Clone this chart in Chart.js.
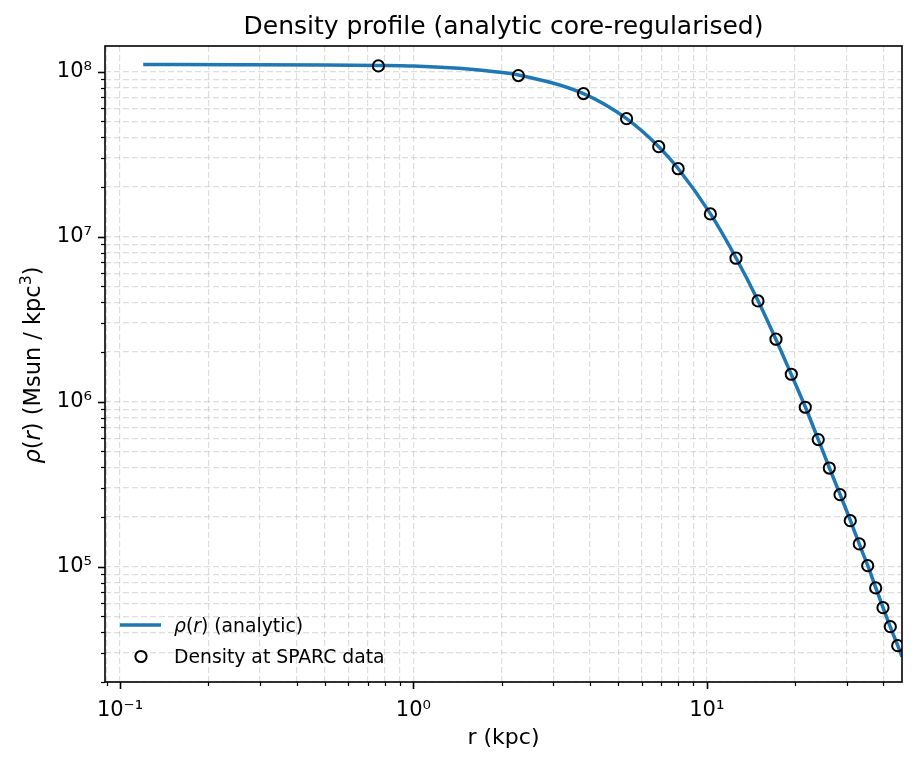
<!DOCTYPE html>
<html>
<head>
<meta charset="utf-8">
<script src="https://cdn.jsdelivr.net/npm/chart.js@4.4.1/dist/chart.umd.min.js"></script>
<style>
  html, body { margin: 0; padding: 0; background: #ffffff; }
  #wrap { width: 917px; height: 767px; position: relative; }
</style>
</head>
<body>
<div id="wrap"><canvas id="c" width="917" height="767"></canvas></div>
<script>
// ---- data ----
const R_LINE = [0.12, 0.25, 0.5, 0.76, 1.0, 1.57, 1.9, 2.28, 3.8, 5.33, 6.86, 8.0, 10.3, 12.6, 15.0, 17.2, 19.4, 21.7, 24.0, 26.2, 28.5, 30.9, 33.1, 35.4, 37.7, 39.9, 42.2, 44.8, 46.3];
const RHO_LINE = [1.103e8, 1.102e8, 1.098e8, 1.09e8, 1.08e8, 1.035e8, 9.99e7, 9.55e7, 7.36e7, 5.19e7, 3.51e7, 2.58e7, 1.373e7, 7.40e6, 4.05e6, 2.39e6, 1.466e6, 9.25e5, 5.89e5, 3.96e5, 2.73e5, 1.90e5, 1.373e5, 1.014e5, 7.43e4, 5.64e4, 4.33e4, 3.32e4, 2.85e4];

const R_PTS = [0.760, 2.28, 3.80, 5.33, 6.86, 7.99, 10.29, 12.58, 14.95, 17.22, 19.42, 21.67, 23.99, 26.17, 28.46, 30.85, 33.11, 35.37, 37.66, 39.88, 42.24, 44.77];
const RHO_PTS = [1.083e8, 9.46e7, 7.36e7, 5.19e7, 3.51e7, 2.58e7, 1.373e7, 7.40e6, 4.08e6, 2.39e6, 1.466e6, 9.25e5, 5.89e5, 3.96e5, 2.73e5, 1.90e5, 1.373e5, 1.014e5, 7.43e4, 5.64e4, 4.33e4, 3.32e4];

const X_RANGE = [0.0889, 46.3];
const Y_RANGE = [2.0e4, 1.43e8];
const X_DECADES = [-2, -1, 0, 1];
const Y_DECADES = [4, 5, 6, 7, 8];

const TITLE = 'Density profile (analytic core-regularised)';
const X_LABEL = 'r (kpc)';
const LINE_LABEL = 'ρ(r) (analytic)';
const PTS_LABEL = 'Density at SPARC data';

// ---- helpers ----
const SUP = {'-':'⁻','0':'⁰','1':'¹','2':'²','3':'³','4':'⁴','5':'⁵','6':'⁶','7':'⁷','8':'⁸','9':'⁹'};
function isPow10(v) { const l = Math.log10(v); return Math.abs(l - Math.round(l)) < 1e-9; }
function powLabel(v) { const e = String(Math.round(Math.log10(v))); return '10' + e.split('').map(c => SUP[c]).join(''); }
function logTicks(decades, range) {
  const out = [];
  decades.forEach(e => { for (let m = 1; m <= 9; m++) { const v = m * Math.pow(10, e); if (v >= range[0] && v <= range[1]) out.push({value: v}); } });
  return out;
}

const FONT = "'DejaVu Sans', sans-serif";
const BLUE = '#1f77b4';
const GRID = 'rgba(176,176,176,0.42)';

// draw a sequence of text runs with mixed styles
function drawRuns(ctx, runs, x, y, size, align) {
  const widths = runs.map(r => {
    ctx.font = (r.italic ? 'italic ' : '') + (r.sup ? size * 0.7 : size) + 'px ' + FONT;
    return ctx.measureText(r.t).width;
  });
  const total = widths.reduce((a, b) => a + b, 0);
  let cx = align === 'center' ? x - total / 2 : x;
  ctx.textAlign = 'left';
  ctx.textBaseline = 'alphabetic';
  runs.forEach((r, i) => {
    ctx.font = (r.italic ? 'italic ' : '') + (r.sup ? size * 0.7 : size) + 'px ' + FONT;
    ctx.fillText(r.t, cx, r.sup ? y - size * 0.38 : y);
    cx += widths[i];
  });
}

const decorPlugin = {
  id: 'decor',
  afterDatasetsDraw(chart) {
    const ctx = chart.ctx;
    ctx.save();
    // legend (frameless, inside lower-left)
    ctx.fillStyle = '#000';
    ctx.strokeStyle = BLUE;
    ctx.lineWidth = 3.5;
    ctx.beginPath(); ctx.moveTo(120, 625); ctx.lineTo(161, 625); ctx.stroke();
    drawRuns(ctx, [{t:'ρ', italic:true}, {t:'('}, {t:'r', italic:true}, {t:') (analytic)'}], 174, 631.5, 18.8, 'left');
    ctx.strokeStyle = '#000';
    ctx.lineWidth = 2;
    ctx.beginPath(); ctx.arc(141, 656.5, 5.6, 0, Math.PI * 2); ctx.stroke();
    drawRuns(ctx, [{t: PTS_LABEL}], 174, 663, 18.8, 'left');
    ctx.restore();
  },
  afterDraw(chart) {
    const ctx = chart.ctx;
    const ca = chart.chartArea;
    const xs = chart.scales.x, ys = chart.scales.y;
    ctx.save();
    ctx.strokeStyle = '#000';
    // tick marks
    xs.ticks.forEach(t => {
      const major = isPow10(t.value);
      const px = Math.round(xs.getPixelForValue(t.value)) + 0.5;
      ctx.lineWidth = major ? 1.6 : 1.2;
      ctx.beginPath(); ctx.moveTo(px, ca.bottom); ctx.lineTo(px, ca.bottom + (major ? 7 : 4)); ctx.stroke();
    });
    ys.ticks.forEach(t => {
      const major = isPow10(t.value);
      const py = Math.round(ys.getPixelForValue(t.value)) + 0.5;
      ctx.lineWidth = major ? 1.6 : 1.2;
      ctx.beginPath(); ctx.moveTo(ca.left, py); ctx.lineTo(ca.left - (major ? 7 : 4), py); ctx.stroke();
    });
    // spines
    ctx.lineWidth = 1.6;
    ctx.strokeStyle = '#000';
    ctx.strokeRect(ca.left, ca.top, ca.right - ca.left, ca.bottom - ca.top);
    // y-axis title with italic symbols
    ctx.fillStyle = '#000';
    ctx.translate(40, (ca.top + ca.bottom) / 2 + 1);
    ctx.rotate(-Math.PI / 2);
    drawRuns(ctx, [{t:'ρ', italic:true}, {t:'('}, {t:'r', italic:true}, {t:') (Msun / kpc'}, {t:'3', sup:true}, {t:')'}], 0, 0, 22.5, 'center');
    ctx.restore();
  }
};

const ctx = document.getElementById('c').getContext('2d');
new Chart(ctx, {
  type: 'scatter',
  data: {
    datasets: [
      {
        label: LINE_LABEL,
        data: R_LINE.map((r, i) => ({x: r, y: RHO_LINE[i]})),
        showLine: true,
        borderColor: BLUE,
        backgroundColor: BLUE,
        borderWidth: 3.5,
        pointRadius: 0,
        pointHoverRadius: 0,
        cubicInterpolationMode: 'monotone',
        clip: 0,
        order: 2
      },
      {
        label: PTS_LABEL,
        data: R_PTS.map((r, i) => ({x: r, y: RHO_PTS[i]})),
        showLine: false,
        pointStyle: 'circle',
        pointRadius: 5.6,
        pointBorderWidth: 2,
        borderColor: '#000',
        backgroundColor: 'rgba(0,0,0,0)',
        pointBackgroundColor: 'rgba(0,0,0,0)',
        pointBorderColor: '#000',
        clip: 0,
        order: 1
      }
    ]
  },
  options: {
    responsive: false,
    animation: false,
    events: [],
    layout: { padding: { left: 0, right: 15, top: 0, bottom: 0 } },
    plugins: {
      legend: { display: false },
      tooltip: { enabled: false },
      title: {
        display: true,
        text: TITLE,
        fullSize: false,
        color: '#000',
        font: { family: FONT, size: 25, weight: 'normal' },
        padding: { top: 12, bottom: 4 }
      }
    },
    scales: {
      x: {
        type: 'logarithmic',
        min: X_RANGE[0], max: X_RANGE[1],
        afterBuildTicks: s => { s.ticks = logTicks(X_DECADES, X_RANGE); },
        afterFit: s => { s.height = 85; },
        grid: { display: true, color: GRID, lineWidth: 1.2, drawTicks: false, borderDash: [6, 3] },
        border: { display: false, dash: [6, 3] },
        ticks: {
          autoSkip: false, maxRotation: 0, minRotation: 0, padding: 16,
          color: '#000', font: { family: FONT, size: 21 },
          callback: v => isPow10(v) ? powLabel(v) : ''
        },
        title: {
          display: true, text: X_LABEL, color: '#000',
          font: { family: FONT, size: 22 },
          padding: { top: 0, bottom: 15.5 }
        }
      },
      y: {
        type: 'logarithmic',
        min: Y_RANGE[0], max: Y_RANGE[1],
        afterBuildTicks: s => { s.ticks = logTicks(Y_DECADES, Y_RANGE); },
        afterFit: s => { s.width = 105; },
        grid: { display: true, color: GRID, lineWidth: 1.2, drawTicks: false, borderDash: [6, 3] },
        border: { display: false, dash: [6, 3] },
        ticks: {
          autoSkip: false, padding: 13,
          color: '#000', font: { family: FONT, size: 21 },
          callback: v => isPow10(v) ? powLabel(v) : ''
        }
      }
    }
  },
  plugins: [decorPlugin]
});
</script>
</body>
</html>
